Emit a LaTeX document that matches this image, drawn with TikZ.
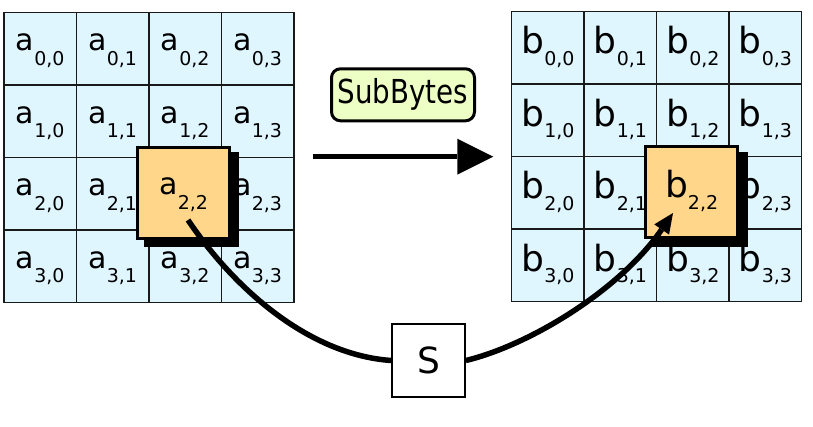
\documentclass[tikz,border=0pt]{standalone}
\usepackage{fontspec}
\setmainfont{DejaVu Sans}
\newfontfamily\sbfont{DejaVu Sans}[FakeStretch=0.84]
\usetikzlibrary{arrows.meta}
\definecolor{cellblue}{RGB}{224,246,255}
\definecolor{hiorange}{RGB}{255,214,138}
\definecolor{sbgreen}{RGB}{238,255,198}
\newcommand\cella[2]{{\fontsize{30}{30}\selectfont a}\raisebox{-14.6pt}{\fontsize{19}{19}\selectfont #1,#2}}
\newcommand\cellb[2]{{\fontsize{36}{36}\selectfont b}\raisebox{-11.3pt}{\fontsize{19}{19}\selectfont #1,#2}}
\begin{document}
\begin{tikzpicture}[x=1pt,y=-1pt,
  cellbox/.style={draw=black!90, line width=1.5pt, fill=cellblue, minimum size=72.5pt, inner sep=0pt, outer sep=0pt},
  atext/.style={text height=20pt, text depth=15.8pt},
  btext/.style={text height=24pt, text depth=12.4pt},
  hibox/.style={draw=black, line width=3pt, fill=hiorange, minimum size=91.5pt, inner sep=0pt},
  sbbox/.style={draw=black, line width=3pt, rounded corners=9pt, fill=sbgreen, minimum width=143pt, minimum height=52pt, inner sep=0pt, font=\sbfont\fontsize{33}{33}\selectfont},
  sboxstyle/.style={draw=black, line width=1.5pt, fill=white, minimum size=73pt, inner sep=0pt, font=\fontsize{36}{36}\selectfont},
  thick connector/.style={line width=5.5pt}]
\useasboundingbox (0,0) rectangle (813,427);
\foreach \ri in {0,...,3}{\foreach \ci in {0,...,3}{
  \node[cellbox,atext] (a\ri\ci) at ({40.25+72.5*\ci},{48.75+72.5*\ri}) {\cella{\ri}{\ci}};
  \node[cellbox,btext] (b\ri\ci) at ({547.95+72.5*\ci},{47.95+72.5*\ri}) {\cellb{\ri}{\ci}};
}}
% shadows
\fill[black] (143.5,152.5) rectangle (239,247.5);
\node[hibox,atext] (ha) at (183.7,192.85) {\cella{2}{2}};
\fill[black] (651.5,152) rectangle (748,246.7);
\node[hibox,btext] (hb) at (691.65,192.15) {\cellb{2}{2}};
\node[sbbox] (sb) at (403,94.8) {SubBytes};
\node[sboxstyle] (S) at (428.6,360.5) {S};
\coordinate (h1) at (312.7,156.7);
\coordinate (h2) at (493.3,156.7);
\draw[thick connector,-{Triangle[length=36pt,width=36pt,line width=0pt]}] (h1) -- (h2);
\coordinate (cs) at (188,220);
\coordinate (ce) at (673,213);
\draw[thick connector] (cs) .. controls (235,290) and (310,355) .. (S.west);
\draw[thick connector,-{Triangle[length=20pt,width=18pt,line width=0pt]}] (S.east) .. controls (530,345) and (620,290) .. (ce);
\end{tikzpicture}
\end{document}
